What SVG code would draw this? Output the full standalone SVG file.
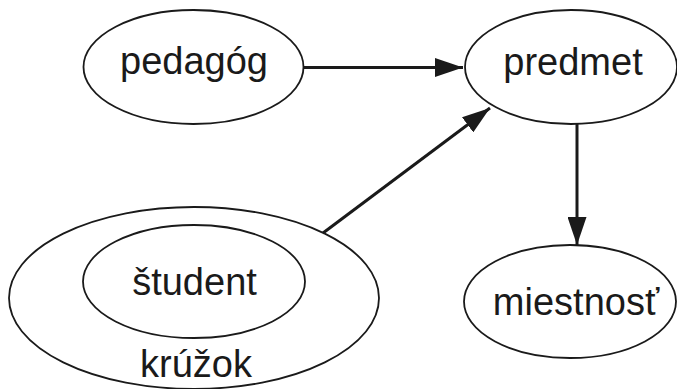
<svg xmlns="http://www.w3.org/2000/svg" width="677" height="389" viewBox="0 0 677 389">
<style>
.n{fill:none;stroke:#1a1a1a;stroke-width:1.8}
.t{font-family:"Liberation Sans",Arial,sans-serif;font-size:38px;fill:#1a1a1a;text-anchor:middle}
.e{fill:none;stroke:#1a1a1a;stroke-width:3}
</style>
<defs>
<marker id="ah" markerUnits="userSpaceOnUse" markerWidth="28" markerHeight="19" refX="28" refY="9.5" orient="auto">
<path d="M0,0 L28,9.5 L0,19 z" fill="#1a1a1a"/>
</marker>
</defs>
<rect width="677" height="389" fill="#fff"/>
<g id="connectors">
<path class="e" d="M304,67.5 L463,67.5" marker-end="url(#ah)"/>
<path class="e" d="M577,124 L577,245" marker-end="url(#ah)"/>
<path class="e" d="M323,233 L490,108" marker-end="url(#ah)"/>
</g>
<g id="pedagog">
<ellipse class="n" cx="193.5" cy="67" rx="110" ry="57"/>
<text class="t" x="194" y="74">pedagóg</text>
</g>
<g id="predmet">
<ellipse class="n" cx="571" cy="67" rx="106" ry="57"/>
<text class="t" x="573" y="75">predmet</text>
</g>
<g id="miestnost">
<ellipse class="n" cx="570" cy="301.5" rx="106" ry="56.5"/>
<text class="t" x="576" y="315">miestnosť</text>
</g>
<g id="kruzok">
<ellipse class="n" cx="194" cy="298" rx="185" ry="91"/>
<text class="t" x="196" y="377">krúžok</text>
</g>
<g id="student">
<ellipse class="n" cx="194" cy="281.5" rx="111" ry="56.5"/>
<text class="t" x="194.5" y="295">študent</text>
</g>
</svg>
